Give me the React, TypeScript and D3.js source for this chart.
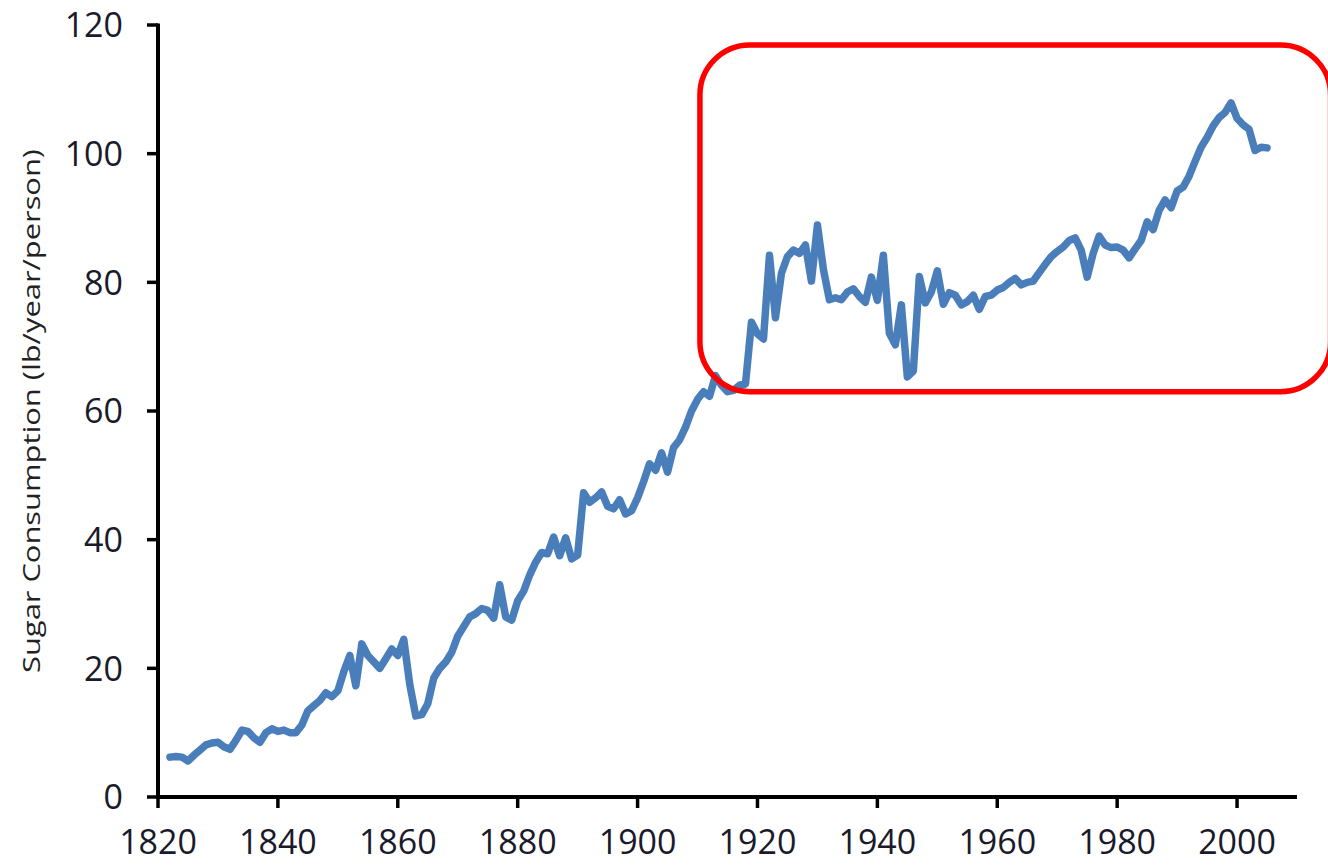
import { useEffect, useRef } from "react";
import * as d3 from "d3";

const startYear = 1822;
// annual sugar consumption, lb/year/person, 1822-2005
const sugar = [
    6.2, 6.3, 6.2, 5.6, 6.5, 7.3, 8.1, 8.4, 8.5, 7.8,
    7.4, 8.8, 10.4, 10.2, 9.2, 8.5, 10.0, 10.6, 10.2, 10.4,
    10.0, 10.0, 11.2, 13.4, 14.2, 15.0, 16.2, 15.6, 16.5, 19.5,
    22.0, 17.3, 23.8, 22.0, 21.0, 20.0, 21.5, 23.0, 22.0, 24.5,
    17.5, 12.6, 12.8, 14.5, 18.5, 20.0, 21.0, 22.5, 25.0, 26.5,
    28.0, 28.5, 29.3, 29.0, 27.8, 33.0, 28.0, 27.5, 30.5, 32.0,
    34.5, 36.5, 38.0, 37.8, 40.4, 37.5, 40.3, 37.0, 37.6, 47.3,
    45.8, 46.5, 47.4, 45.2, 44.8, 46.2, 44.0, 44.5, 46.5, 49.0,
    51.8, 50.8, 53.5, 50.5, 54.3, 55.5, 57.5, 60.0, 61.8, 63.0,
    62.3, 65.5, 64.0, 63.0, 63.2, 64.0, 64.2, 73.8, 72.0, 71.2,
    84.2, 74.5, 81.4, 84.0, 85.0, 84.5, 85.8, 80.2, 88.9, 82.0,
    77.3, 77.6, 77.3, 78.5, 79.0, 77.8, 76.9, 80.8, 77.2, 84.2,
    72.1, 70.3, 76.5, 65.3, 66.2, 80.9, 76.8, 78.5, 81.8, 76.6,
    78.4, 78.0, 76.5, 77.0, 78.0, 75.8, 77.8, 78.0, 78.8, 79.2,
    80.0, 80.6, 79.6, 80.0, 80.2, 81.5, 82.8, 84.0, 84.8, 85.5,
    86.5, 86.9, 85.0, 80.8, 84.5, 87.2, 85.8, 85.4, 85.5, 85.0,
    83.8, 85.2, 86.5, 89.4, 88.2, 91.2, 92.8, 91.6, 94.2, 94.8,
    96.5, 98.8, 101.0, 102.5, 104.3, 105.6, 106.4, 107.9, 105.5, 104.5,
    103.8, 100.5, 101.0, 100.9,
];
const xTicks = [1820, 1840, 1860, 1880, 1900, 1920, 1940, 1960, 1980, 2000];
const yTicks = [0, 20, 40, 60, 80, 100, 120];
const yTitle = "Sugar Consumption (lb/year/person)";
// highlighted region, in data units
const highlight = { x0: 1910.4, x1: 2015.6, y0: 63, y1: 116.9 };

const width = 1328;
const height = 866;

export default function App() {
    const svgRef = useRef<SVGSVGElement>(null);

    useEffect(() => {
        if (!svgRef.current) return;
        const svg = d3.select(svgRef.current);
        svg.selectAll("*").remove();

        const x = d3.scaleLinear([1820, 2010], [158, 1297]);
        const y = d3.scaleLinear([0, 120], [797, 25]);

        const data = sugar.map((v, i) => ({ year: startYear + i, value: v }));

        // y axis
        const gy = svg.append("g").attr("transform", `translate(${x(1820)},0)`);
        gy.append("line")
            .attr("y1", y(120) - 1.5)
            .attr("y2", y(0) + 2)
            .attr("stroke", "#000")
            .attr("stroke-width", 4);
        gy.selectAll(".tick")
            .data(yTicks)
            .join("g")
            .attr("transform", (d) => `translate(0,${y(d)})`)
            .call((g) =>
                g.append("line").attr("x1", -11).attr("x2", 0).attr("stroke", "#000").attr("stroke-width", 3.5)
            )
            .call((g) =>
                g
                    .append("text")
                    .attr("x", -35)
                    .attr("dy", "0.36em")
                    .attr("text-anchor", "end")
                    .attr("font-family", "Open Sans")
                    .attr("font-size", 34)
                    .attr("fill", "#1a1a2a")
                    .text((d) => d)
            );

        // x axis
        const gx = svg.append("g").attr("transform", `translate(0,${y(0)})`);
        gx.append("line")
            .attr("x1", x(1820) - 2)
            .attr("x2", x(2010))
            .attr("stroke", "#000")
            .attr("stroke-width", 4);
        gx.selectAll(".tick")
            .data(xTicks)
            .join("g")
            .attr("transform", (d) => `translate(${x(d)},0)`)
            .call((g) =>
                g.append("line").attr("y1", 0).attr("y2", 11).attr("stroke", "#000").attr("stroke-width", 3.5)
            )
            .call((g) =>
                g
                    .append("text")
                    .attr("y", 57)
                    .attr("text-anchor", "middle")
                    .attr("font-family", "Open Sans")
                    .attr("font-size", 34)
                    .attr("fill", "#1a1a2a")
                    .text((d) => d)
            );

        // y title
        svg.append("text")
            .attr("transform", `translate(40,${y(60)}) rotate(-90)`)
            .attr("text-anchor", "middle")
            .attr("font-family", "Open Sans")
            .attr("font-size", 23)
            .attr("fill", "#222")
            .attr("textLength", 524)
            .attr("lengthAdjust", "spacingAndGlyphs")
            .text(yTitle);

        // series
        const line = d3
            .line<{ year: number; value: number }>()
            .x((d) => x(d.year))
            .y((d) => y(d.value));
        svg.append("path")
            .attr("fill", "none")
            .attr("stroke", "#4a7ebb")
            .attr("stroke-width", 7.5)
            .attr("stroke-linejoin", "round")
            .attr("stroke-linecap", "round")
            .attr("d", line(data));

        // highlight box
        svg.append("rect")
            .attr("x", x(highlight.x0))
            .attr("y", y(highlight.y1))
            .attr("width", x(highlight.x1) - x(highlight.x0))
            .attr("height", y(highlight.y0) - y(highlight.y1))
            .attr("rx", 50)
            .attr("fill", "none")
            .attr("stroke", "#ff0000")
            .attr("stroke-width", 5.5);

        return () => {
            svg.selectAll("*").remove();
        };
    }, []);

    return (
        <svg
            ref={svgRef}
            width={width}
            height={height}
            style={{ position: "absolute", left: 0, top: 0, background: "#fff" }}
        />
    );
}
